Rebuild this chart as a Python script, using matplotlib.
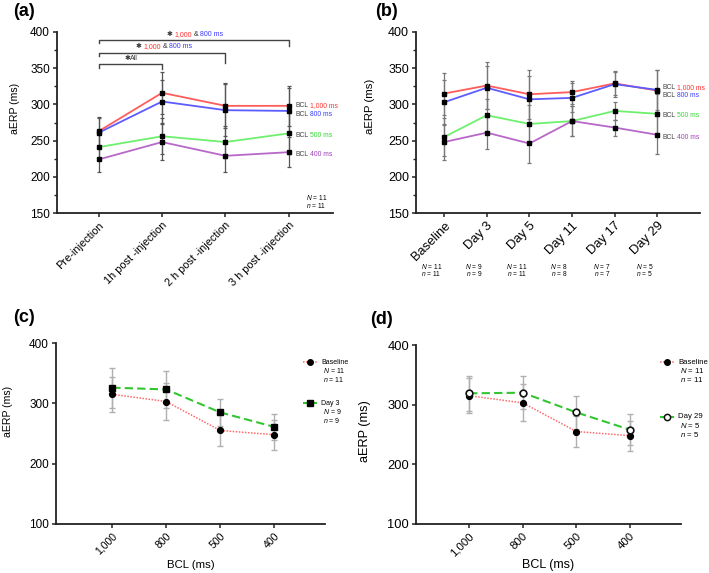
import matplotlib
matplotlib.use('Agg')
import matplotlib.pyplot as plt
import matplotlib.transforms as mtransforms
from matplotlib.ticker import MultipleLocator

plt.rcParams['font.family'] = ['Liberation Sans', 'DejaVu Sans']
plt.rcParams['mathtext.fontset'] = 'custom'
plt.rcParams['mathtext.rm'] = 'Liberation Sans'
plt.rcParams['mathtext.it'] = 'Liberation Sans:italic'

# ---------------- data ----------------
a_labels = ['Pre-injection', '1h post -injection', '2 h post -injection', '3 h post -injection']
a_1000 = [263, 316, 298, 298]
a_800 = [261, 304, 292, 291]
a_500 = [241, 256, 248, 260]
a_400 = [224, 248, 229, 234]
a_1000_sd = [20, 29, 31, 28]
a_800_sd = [20, 30, 36, 31]
a_500_sd = [18, 25, 22, 28]
a_400_sd = [18, 25, 22, 21]

b_labels = ['Baseline', 'Day 3', 'Day 5', 'Day 11', 'Day 17', 'Day 29']
b_1000 = [315, 326, 314, 317, 329, 319]
b_800 = [303, 323, 307, 309, 328, 320]
b_500 = [255, 285, 273, 277, 291, 287]
b_400 = [248, 261, 246, 277, 268, 258]
b_1000_sd = [29, 33, 34, 16, 16, 29]
b_800_sd = [31, 30, 32, 20, 18, 28]
b_500_sd = [26, 23, 26, 21, 13, 27]
b_400_sd = [25, 22, 27, 21, 11, 26]
b_N = [11, 9, 11, 8, 7, 5]
b_n = [11, 9, 11, 8, 7, 5]

bcl_labels = ['1,000', '800', '500', '400']
bcl_names = ['1,000 ms', '800 ms', '500 ms', '400 ms']

# ---------------- styles ----------------
line_cols = ['#ff5c5c', '#5c5cff', '#6ef06e', '#b868c8']
text_cols = ['#ff3030', '#3a3aff', '#30d830', '#a040b8']
FIG_W, FIG_H = 709, 573

fig = plt.figure(figsize=(FIG_W / 100, FIG_H / 100), dpi=100)
renderer = fig.canvas.get_renderer()


def px_axes(l, t, r, b):
    return fig.add_axes([l / FIG_W, 1 - b / FIG_H, (r - l) / FIG_W, (b - t) / FIG_H])


def style_axes(ax, fs):
    for s in ['top', 'right']:
        ax.spines[s].set_visible(False)
    for s in ['left', 'bottom']:
        ax.spines[s].set_linewidth(1.3)
        ax.spines[s].set_color('#222222')
    ax.tick_params(axis='both', which='major', length=3, width=1.1, color='#222222',
                   labelsize=fs, pad=2)
    ax.tick_params(axis='y', which='minor', length=2, width=1.0, color='#222222')


def rainbow(ax, x, y, parts, transform, fs):
    """parts: list of (text, colour, gap_after_em)"""
    tr = mtransforms.offset_copy(transform, fig=fig, y=-0.36 * fs, units='points')
    for s, c, gap in parts:
        t = ax.text(x, y, s, color=c, transform=tr, fontsize=fs, va='baseline',
                    ha='left', clip_on=False)
        w = t.get_window_extent(renderer=renderer).width
        tr = mtransforms.offset_copy(tr, fig=fig, x=w + gap * fs * 100 / 72, units='dots')


def draw_bcl(ax, series, sds, ecol):
    x = list(range(len(series[0])))
    for y, sd in zip(series, sds):
        ax.errorbar(x, y, yerr=sd, fmt='none', ecolor=ecol, elinewidth=0.9,
                    capsize=1.6, capthick=0.9, zorder=1)
    for y, c in zip(series, line_cols):
        ax.plot(x, y, color=c, lw=1.3, zorder=2)
        ax.plot(x, y, 's', color='black', ms=2.6, zorder=3)


# ---------------- panel (a) ----------------
axa = px_axes(57, 32, 333, 213)
style_axes(axa, 8.5)
draw_bcl(axa, [a_1000, a_800, a_500, a_400], [a_1000_sd, a_800_sd, a_500_sd, a_400_sd], '#555555')
axa.set_xlim(-0.66, 3.70)
axa.set_ylim(150, 400)
axa.yaxis.set_major_locator(MultipleLocator(50))
axa.yaxis.set_minor_locator(MultipleLocator(25))
axa.set_xticks(range(len(a_labels)))
axa.set_xticklabels(a_labels, rotation=45, ha='right', rotation_mode='anchor', fontsize=7.9)
axa.set_ylabel('aERP (ms)', fontsize=7.6)
axa.yaxis.set_label_coords(-0.134, 0.58)

a_last = [a_1000[-1], a_800[-1], a_500[-1], a_400[-1]]
a_lab_off = [2, -3, -1, -2]
for v, off, name, tc in zip(a_last, a_lab_off, bcl_names, text_cols):
    rainbow(axa, 3.11, v + off, [('BCL', '#444444', 0.25), (name, tc, 0)], axa.transData, 4.9)

# significance brackets
star_parts = [('✱', '#333333', 0.3), ('1,000', text_cols[0], 0.25), ('&', '#333333', 0.25),
              ('800 ms', text_cols[1], 0)]
br = [(1, 355.5, 5.5, 6.0, 0.40, 364.5, [('✱', '#333333', 0.05), ('All', '#333333', 0)]),
      (2, 370.6, 3.5, 13.0, 0.585, 381, star_parts),
      (3, 389.0, 4.0, 8.5, 1.07, 398, star_parts)]
for x1, yb, d0, d1, tx, ty, parts in br:
    axa.plot([0, 0, x1, x1], [yb - d0, yb, yb, yb - d1], color='#444444', lw=1.0,
             clip_on=False, zorder=4)
    rainbow(axa, tx, ty, parts, axa.transData, 5.0)

axa.text(0.94, 0.088, '$N$ = 11', transform=axa.transAxes, fontsize=4.8, ha='center', va='center')
axa.text(0.94, 0.039, '$n$ = 11', transform=axa.transAxes, fontsize=4.8, ha='center', va='center')

# ---------------- panel (b) ----------------
axb = px_axes(416, 32, 700, 213)
style_axes(axb, 9.0)
draw_bcl(axb, [b_1000, b_800, b_500, b_400], [b_1000_sd, b_800_sd, b_500_sd, b_400_sd], '#777777')
axb.set_xlim(-0.66, 6.0)
axb.set_ylim(150, 400)
axb.yaxis.set_major_locator(MultipleLocator(50))
axb.yaxis.set_minor_locator(MultipleLocator(25))
axb.set_xticks(range(len(b_labels)))
axb.set_xticklabels(b_labels, rotation=45, ha='right', rotation_mode='anchor', fontsize=9.3)
axb.set_ylabel('aERP (ms)', fontsize=8.2)
axb.yaxis.set_label_coords(-0.144, 0.59)

b_last = [b_1000[-1], b_800[-1], b_500[-1], b_400[-1]]
b_lab_off = [6, -6, -1, -2]
for v, off, name, tc in zip(b_last, b_lab_off, bcl_names, text_cols):
    rainbow(axb, 5.12, v + off, [('BCL', '#444444', 0.25), (name, tc, 0)], axb.transData, 4.9)

for i, (N, n) in enumerate(zip(b_N, b_n)):
    axb.text(i - 0.3, -0.293, f'$N$ = {N}', transform=axb.get_xaxis_transform(),
             fontsize=4.8, ha='center', va='center')
    axb.text(i - 0.3, -0.337, f'$n$ = {n}', transform=axb.get_xaxis_transform(),
             fontsize=4.8, ha='center', va='center')


# ---------------- panels (c) and (d) ----------------
def draw_cmp(ax, base, base_sd, other, other_sd, open_marker, fs, lfs, lpad):
    x = list(range(len(base)))
    ax.errorbar(x, base, yerr=base_sd, fmt='none', ecolor='#b0b0b0', elinewidth=1.0,
                capsize=2.0, capthick=1.0, zorder=1)
    ax.errorbar(x, other, yerr=other_sd, fmt='none', ecolor='#b0b0b0', elinewidth=1.0,
                capsize=2.0, capthick=1.0, zorder=1)
    ax.plot(x, base, color='#ff6a6a', lw=1.1, ls=(0, (1, 1)), zorder=2)
    ax.plot(x, base, 'o', color='black', ms=4.2, zorder=4)
    ax.plot(x, other, color='#33c633', lw=1.5, ls=(0, (4, 2)), zorder=3)
    if open_marker:
        ax.plot(x, other, 'o', mfc='white', mec='#111111', mew=1.2, ms=4.8, zorder=5)
    else:
        ax.plot(x, other, 's', color='black', ms=4.8, zorder=5)
    ax.set_ylim(100, 400)
    ax.yaxis.set_major_locator(MultipleLocator(100))
    ax.set_xticks(x)
    ax.set_xticklabels(bcl_labels, rotation=45, ha='right', rotation_mode='anchor', fontsize=fs)
    ax.set_xlabel('BCL (ms)', fontsize=lfs, labelpad=lpad)


def legend_entry(ax, xm, y, label, N, n, open_marker, base, fs, dy):
    tr = ax.transAxes
    if base:
        ax.plot([xm - 0.025, xm + 0.025], [y, y], color='#ff6a6a', lw=1.1, ls=(0, (1, 1)),
                transform=tr, clip_on=False)
        ax.plot([xm], [y], 'o', color='black', ms=4.0, transform=tr, clip_on=False)
    else:
        ax.plot([xm - 0.025, xm + 0.025], [y, y], color='#33c633', lw=1.5, ls=(0, (3, 1.5)),
                transform=tr, clip_on=False)
        if open_marker:
            ax.plot([xm], [y], 'o', mfc='white', mec='#111111', mew=1.1, ms=4.5,
                    transform=tr, clip_on=False)
        else:
            ax.plot([xm], [y], 's', color='black', ms=4.3, transform=tr, clip_on=False)
    ax.text(xm + 0.042, y, label, transform=tr, fontsize=fs, va='center', ha='left')
    ax.text(xm + 0.05, y - dy, f'$N$ = {N}', transform=tr, fontsize=fs, va='center', ha='left')
    ax.text(xm + 0.05, y - 2 * dy, f'$n$ = {n}', transform=tr, fontsize=fs, va='center', ha='left')


base_vals = [b_1000[0], b_800[0], b_500[0], b_400[0]]
base_sds = [b_1000_sd[0], b_800_sd[0], b_500_sd[0], b_400_sd[0]]
d3_vals = [b_1000[1], b_800[1], b_500[1], b_400[1]]
d3_sds = [b_1000_sd[1], b_800_sd[1], b_500_sd[1], b_400_sd[1]]
d29_vals = [b_1000[5], b_800[5], b_500[5], b_400[5]]
d29_sds = [b_1000_sd[5], b_800_sd[5], b_500_sd[5], b_400_sd[5]]

axc = px_axes(56, 343, 325, 524)
style_axes(axc, 8.5)
draw_cmp(axc, base_vals, base_sds, d3_vals, d3_sds, False, 7.6, 8.2, 2.5)
axc.set_xlim(-1.04, 3.94)
axc.set_ylabel('aERP (ms)', fontsize=7.6)
axc.yaxis.set_label_coords(-0.16, 0.62)
legend_entry(axc, 0.944, 0.895, 'Baseline', b_N[0], b_n[0], False, True, 5.0, 0.048)
legend_entry(axc, 0.944, 0.668, 'Day 3', b_N[1], b_n[1], False, False, 5.0, 0.048)

axd = px_axes(416, 345, 681, 524)
style_axes(axd, 9.3)
draw_cmp(axd, base_vals, base_sds, d29_vals, d29_sds, True, 8.2, 9.0, 0.5)
axd.set_xlim(-0.99, 3.95)
axd.set_ylabel('aERP (ms)', fontsize=9.2)
axd.yaxis.set_label_coords(-0.17, 0.52)
legend_entry(axd, 0.947, 0.905, 'Baseline', b_N[0], b_n[0], False, True, 5.6, 0.05)
legend_entry(axd, 0.947, 0.598, 'Day 29', b_N[5], b_n[5], True, False, 5.6, 0.05)

# panel letters
for px, py, lab in [(13, 11, '(a)'), (375, 11, '(b)'), (13, 318, '(c)'), (370, 320, '(d)')]:
    fig.text(px / FIG_W, 1 - py / FIG_H, lab, fontsize=13, fontweight='bold',
             ha='left', va='center')

fig.savefig('out.png', dpi=100)
